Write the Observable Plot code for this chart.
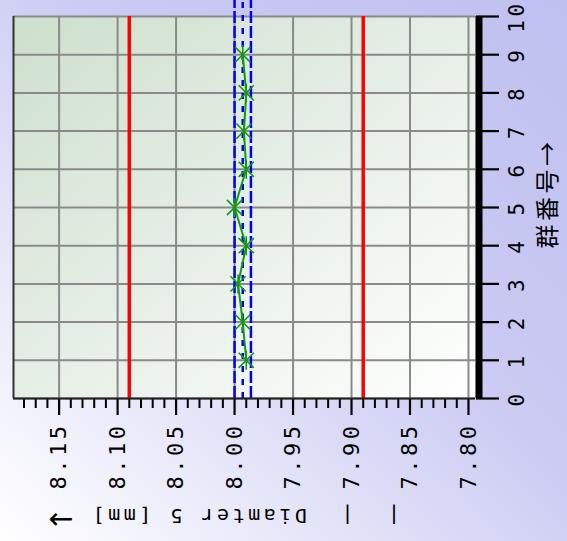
<!DOCTYPE html>
<html><head><meta charset="utf-8">
<script src="https://cdn.jsdelivr.net/npm/d3@7"></script>
<script src="https://cdn.jsdelivr.net/npm/@observablehq/plot@0.6"></script>
<style>
html,body{margin:0;padding:0;}
body{width:567px;height:541px;overflow:hidden;background:linear-gradient(to top right,#ffffff 0%,#cacaf3 58%,#c0c0f0 100%);}
#chart svg{display:block;}
</style></head><body><div id="chart"></div>
<script>
const samples = [1, 2, 3, 4, 5, 6, 7, 8, 9];
const diameters = [7.990, 7.993, 7.997, 7.990, 8.000, 7.990, 7.992, 7.990, 7.993];
const specLimits = [8.09, 7.89];
const nominalLine = [8.000];
const centerLine = [7.993];
const lowerLine = [7.986];
const xDomain = [8.189, 7.794];
const yDomain = [0, 10];
const blueTop = 10.45;
const majorTicks = [8.15, 8.10, 8.05, 8.00, 7.95, 7.90, 7.85, 7.80];
const minorTicks = [8.18, 8.17, 8.16, 8.14, 8.13, 8.12, 8.11, 8.09, 8.08, 8.07, 8.06, 8.04, 8.03, 8.02, 8.01,
  7.99, 7.98, 7.97, 7.96, 7.94, 7.93, 7.92, 7.91, 7.89, 7.88, 7.87, 7.86, 7.84, 7.83, 7.82, 7.81];
const yTicks = [0, 1, 2, 3, 4, 5, 6, 7, 8, 9, 10];
const xTitle = "群番号→";
const yTitleText = "|  |  Diamter 5 [mm] ";
const yTitleArrow = "→";

const mono = "'DejaVu Sans Mono', 'Liberation Mono', monospace";
const green = "#139a13";

// "X with a vertical bar" marker
const crossStar = {
  draw(context, size) {
    const r = Math.sqrt(size / Math.PI);
    const a = r * 0.8;
    context.moveTo(0, -r); context.lineTo(0, r);
    context.moveTo(-a, -a); context.lineTo(a, a);
    context.moveTo(-a, a); context.lineTo(a, -a);
  }
};

const plot = Plot.plot({
  width: 567, height: 541,
  marginLeft: 13, marginRight: 92, marginTop: 16, marginBottom: 143,
  style: {background: "transparent", fontFamily: mono, overflow: "visible", color: "#000"},
  x: {domain: xDomain, axis: null},
  y: {domain: yDomain, axis: null},
  marks: [
    Plot.frame({fill: "url(#plotbg)", stroke: null}),
    Plot.gridX(majorTicks, {stroke: "#8a8a8a", strokeWidth: 2, strokeOpacity: 1}),
    Plot.gridY(yTicks, {stroke: "#8a8a8a", strokeWidth: 2, strokeOpacity: 1}),
    Plot.ruleX([xDomain[0]], {stroke: "#333", strokeWidth: 2}),
    Plot.ruleX(specLimits, {stroke: "#ff0000", strokeWidth: 3.5}),
    Plot.ruleX(nominalLine, {y1: yDomain[0], y2: blueTop, stroke: "#0000ff", strokeWidth: 2.5, strokeDasharray: "12,3"}),
    Plot.ruleX(centerLine, {y1: yDomain[0], y2: blueTop, stroke: "#0000ff", strokeWidth: 2.5, strokeDasharray: "6,7"}),
    Plot.ruleX(lowerLine, {y1: yDomain[0], y2: blueTop, stroke: "#0000ff", strokeWidth: 2.5, strokeDasharray: "12,3"}),
    Plot.line(samples, {x: diameters, y: samples, stroke: green, strokeWidth: 2}),
    Plot.dot(samples, {x: diameters, y: samples, symbol: crossStar, r: 9.5, stroke: green, strokeWidth: 1.6}),
    Plot.axisX(minorTicks, {anchor: "bottom", tickSize: 10, tickFormat: () => "", label: null, strokeWidth: 2}),
    Plot.axisX(majorTicks, {anchor: "bottom", tickSize: 17, tickPadding: 7, tickRotate: -90, fontSize: 22,
      tickFormat: d3.format(".2f"), label: null, strokeWidth: 2.2}),
    Plot.axisY(yTicks, {anchor: "right", tickSize: 23, tickPadding: 8, tickRotate: -90, fontSize: 21,
      label: null, strokeWidth: 2.2, textStroke: null}),
    Plot.ruleY([yDomain[0]], {stroke: "#222", strokeWidth: 2}),
    Plot.ruleX([xDomain[1]], {stroke: "#000", strokeWidth: 7, dx: 3.5}),
    Plot.text([yTitleText + yTitleArrow], {frameAnchor: "bottom", dx: -22, dy: 117, rotate: 180, fontSize: 20,
      lineAnchor: "middle", textAnchor: "middle", fill: "#000"}),
    Plot.text([xTitle], {frameAnchor: "right", dx: 73, dy: -14, rotate: -90, fontSize: 24,
      lineAnchor: "middle", textAnchor: "middle", fill: "#000",
      fontFamily: "'Noto Sans CJK JP', sans-serif"})
  ]
});

const svg = d3.select(plot);
const defs = svg.insert("defs", ":first-child");
const g = defs.append("linearGradient").attr("id", "plotbg")
  .attr("x1", "0%").attr("y1", "0%").attr("x2", "100%").attr("y2", "100%");
g.append("stop").attr("offset", "0%").attr("stop-color", "#cddfcd");
g.append("stop").attr("offset", "100%").attr("stop-color", "#ffffff");
svg.selectAll("text").style("letter-spacing", "3.5px");

// long arrow for the y title
svg.selectAll("text").filter(function() { return this.textContent === yTitleText + yTitleArrow; })
  .each(function() {
    const t = d3.select(this);
    t.text(null);
    t.append("tspan").text(yTitleText);
    t.append("tspan").style("font-family", "'DejaVu Sans', sans-serif").style("font-size", "1.5em")
      .attr("dy", "-1").text(yTitleArrow);
  });

// push right-axis labels outward
const yl = svg.select("g[aria-label='y-axis tick label']");
yl.attr("transform", function() { return (d3.select(this).attr("transform") || "") + " translate(17,0)"; });

document.getElementById("chart").appendChild(plot);
</script>
</body></html>
